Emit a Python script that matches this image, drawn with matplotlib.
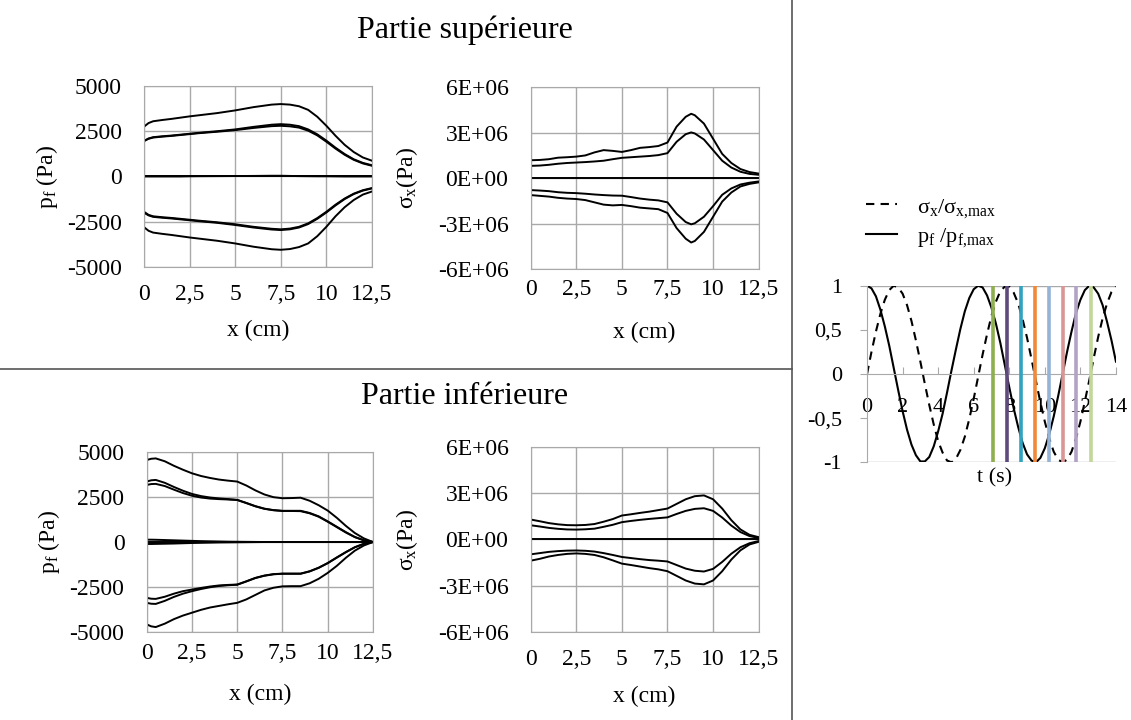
import matplotlib
matplotlib.use("Agg")
import matplotlib.pyplot as plt
from matplotlib.lines import Line2D

plt.rcParams['font.family'] = ['Liberation Serif', 'DejaVu Serif']
plt.rcParams['mathtext.fontset'] = 'custom'
plt.rcParams['mathtext.rm'] = 'Liberation Serif'
plt.rcParams['mathtext.default'] = 'regular'

# ---- data: partie superieure, pression p_f (Pa)
x_ps = [0, 0.25, 0.5, 1, 1.5, 2, 2.5, 3, 4, 5, 6, 7, 7.5, 8, 8.5, 9, 9.5, 10, 10.5, 11, 11.5, 12, 12.5]
ps_a_hi = [2750, 2950, 3050, 3120, 3180, 3250, 3320, 3380, 3500, 3650, 3830, 3970, 4000, 3970, 3880, 3680, 3300, 2800, 2250, 1750, 1350, 1050, 870]
ps_b1_hi = [1950, 2100, 2170, 2220, 2260, 2310, 2360, 2410, 2500, 2600, 2740, 2860, 2890, 2860, 2780, 2600, 2330, 1980, 1590, 1240, 950, 750, 620]
ps_b2_hi = [1970, 2080, 2150, 2200, 2240, 2290, 2340, 2390, 2470, 2560, 2680, 2780, 2800, 2770, 2700, 2530, 2270, 1920, 1540, 1200, 920, 720, 590]
ps_c1 = [0] * 23
ps_c2 = [0, 0, 0, 0, 0, 0, 10, 15, 20, 25, 30, 40, 40, 30, 20, 15, 10, 10, 5, 0, 0, 0, 0]
ps_b1_lo = [-1950, -2120, -2200, -2250, -2290, -2340, -2390, -2440, -2530, -2640, -2780, -2890, -2920, -2880, -2780, -2590, -2300, -1950, -1560, -1220, -950, -760, -640]
ps_b2_lo = [-2000, -2150, -2230, -2280, -2320, -2370, -2420, -2470, -2560, -2680, -2820, -2930, -2960, -2920, -2820, -2630, -2340, -1990, -1600, -1250, -970, -780, -660]
ps_a_lo = [-2800, -3000, -3100, -3170, -3230, -3300, -3370, -3430, -3550, -3700, -3880, -4020, -4050, -4010, -3900, -3700, -3300, -2780, -2200, -1700, -1300, -1000, -830]

# ---- partie superieure, contrainte sigma_x (MPa)
x_ss = [0, 0.5, 1, 1.5, 2, 2.5, 3, 3.5, 4, 4.5, 5, 5.5, 6, 6.5, 7, 7.5, 8, 8.5, 8.8, 9, 9.5, 10, 10.5, 11, 11.5, 12, 12.5]
ss_a_hi = [1.18, 1.2, 1.25, 1.35, 1.38, 1.42, 1.5, 1.7, 1.85, 1.8, 1.73, 1.85, 2.0, 2.05, 2.12, 2.35, 3.4, 4.05, 4.25, 4.15, 3.6, 2.6, 1.6, 1.0, 0.6, 0.4, 0.3]
ss_b_hi = [0.81, 0.83, 0.88, 0.95, 1.0, 1.03, 1.06, 1.1, 1.15, 1.25, 1.34, 1.38, 1.42, 1.46, 1.52, 1.65, 2.4, 2.9, 3.02, 2.95, 2.55, 1.85, 1.15, 0.7, 0.42, 0.28, 0.22]
ss_c = [0] * 27
ss_b_lo = [-0.79, -0.82, -0.86, -0.93, -0.97, -0.99, -1.03, -1.08, -1.12, -1.15, -1.16, -1.25, -1.35, -1.42, -1.47, -1.6, -2.35, -2.9, -3.05, -2.98, -2.55, -1.85, -1.1, -0.68, -0.42, -0.3, -0.22]
ss_a_lo = [-1.12, -1.17, -1.22, -1.3, -1.35, -1.38, -1.45, -1.6, -1.75, -1.8, -1.77, -1.85, -1.95, -2.0, -2.05, -2.3, -3.3, -4.0, -4.25, -4.15, -3.55, -2.55, -1.55, -0.95, -0.55, -0.38, -0.28]

# ---- partie inferieure, pression p_f (Pa)
x_pi = [0, 0.25, 0.5, 1, 1.5, 2, 2.5, 3, 3.5, 4, 4.5, 5, 5.5, 6, 6.5, 7, 7.5, 8, 8.5, 9, 9.5, 10, 10.5, 11, 11.5, 12, 12.5]
pi_a_hi = [4570, 4640, 4660, 4500, 4250, 4030, 3830, 3680, 3570, 3480, 3420, 3370, 3150, 2880, 2650, 2500, 2440, 2450, 2470, 2300, 2050, 1750, 1350, 900, 500, 200, 0]
pi_b1_hi = [3370, 3440, 3460, 3300, 3070, 2860, 2680, 2560, 2480, 2430, 2390, 2350, 2180, 2000, 1860, 1780, 1740, 1740, 1740, 1620, 1430, 1150, 850, 550, 280, 100, 0]
pi_b2_hi = [3180, 3230, 3240, 3120, 2920, 2730, 2580, 2480, 2420, 2390, 2370, 2340, 2170, 1990, 1850, 1770, 1730, 1730, 1720, 1600, 1410, 1130, 830, 530, 270, 90, 0]
pi_c0 = [0] * 27
pi_c1 = [130, 130, 125, 110, 95, 80, 65, 50, 40, 30, 20, 15, 10, 5, 0, 0, 0, 0, 0, 0, 0, 0, 0, 0, 0, 0, 0]
pi_c2 = [-110, -110, -105, -95, -85, -70, -55, -45, -35, -25, -20, -15, -10, -5, 0, 0, 0, 0, 0, 0, 0, 0, 0, 0, 0, 0, 0]
pi_b1_lo = [-3110, -3160, -3170, -3050, -2880, -2740, -2650, -2560, -2480, -2420, -2390, -2370, -2190, -2000, -1870, -1790, -1760, -1760, -1760, -1630, -1430, -1170, -860, -560, -290, -100, 0]
pi_b2_lo = [-3390, -3440, -3450, -3280, -3060, -2880, -2740, -2620, -2520, -2450, -2410, -2380, -2200, -2010, -1880, -1800, -1770, -1770, -1770, -1640, -1440, -1180, -870, -570, -290, -100, 0]
pi_a_lo = [-4590, -4700, -4740, -4550, -4300, -4100, -3940, -3780, -3650, -3560, -3470, -3390, -3200, -2950, -2700, -2550, -2470, -2460, -2460, -2300, -2050, -1720, -1330, -880, -480, -190, 0]

# ---- partie inferieure, contrainte sigma_x (MPa)
x_si = [0, 0.5, 1, 1.5, 2, 2.5, 3, 3.5, 4, 4.5, 5, 5.5, 6, 6.5, 7, 7.5, 8, 8.5, 9, 9.5, 10, 10.5, 11, 11.5, 12, 12.5]
si_a_hi = [1.29, 1.18, 1.06, 0.98, 0.93, 0.92, 0.94, 1.0, 1.15, 1.32, 1.55, 1.63, 1.72, 1.8, 1.9, 2.0, 2.3, 2.6, 2.8, 2.85, 2.6, 2.0, 1.25, 0.65, 0.3, 0.15]
si_b_hi = [0.92, 0.84, 0.75, 0.69, 0.65, 0.64, 0.66, 0.7, 0.82, 0.95, 1.12, 1.2, 1.27, 1.33, 1.38, 1.43, 1.65, 1.85, 1.98, 2.02, 1.85, 1.42, 0.9, 0.48, 0.22, 0.1]
si_c = [0] * 26
si_b_lo = [-0.96, -0.88, -0.8, -0.75, -0.72, -0.71, -0.73, -0.78, -0.88, -1.0, -1.13, -1.2, -1.27, -1.33, -1.37, -1.42, -1.65, -1.88, -2.02, -2.07, -1.9, -1.45, -0.92, -0.5, -0.24, -0.1]
si_a_lo = [-1.37, -1.25, -1.1, -1.0, -0.93, -0.9, -0.93, -1.0, -1.15, -1.35, -1.56, -1.65, -1.75, -1.85, -1.93, -2.05, -2.35, -2.65, -2.85, -2.9, -2.65, -2.05, -1.3, -0.7, -0.32, -0.15]

# ---- signaux normalises
t = [0, 0.25, 0.5, 0.75, 1, 1.25, 1.5, 1.75, 2, 2.25, 2.5, 2.75, 3, 3.25, 3.5, 3.75, 4, 4.25, 4.5, 4.75,
     5, 5.25, 5.5, 5.75, 6, 6.25, 6.5, 6.75, 7, 7.25, 7.5, 7.75, 8, 8.25, 8.5, 8.75, 9, 9.25, 9.5, 9.75,
     10, 10.25, 10.5, 10.75, 11, 11.25, 11.5, 11.75, 12, 12.25, 12.5, 12.75, 13, 13.25, 13.5, 13.75, 14]
p_norm = [1.00, 0.97, 0.88, 0.73, 0.54, 0.32, 0.07, -0.18, -0.42, -0.63, -0.80, -0.92, -0.99, -0.99, -0.94, -0.82, -0.65, -0.45, -0.21, 0.04,
          0.28, 0.51, 0.71, 0.86, 0.96, 1.00, 0.98, 0.89, 0.75, 0.57, 0.35, 0.10, -0.15, -0.39, -0.60, -0.78, -0.91, -0.98, -1.00, -0.95,
          -0.84, -0.68, -0.48, -0.25, 0.00, 0.25, 0.48, 0.69, 0.84, 0.95, 1.00, 0.98, 0.91, 0.78, 0.59, 0.38, 0.14]
s_norm = [0.00, 0.25, 0.48, 0.68, 0.84, 0.95, 1.00, 0.98, 0.91, 0.78, 0.60, 0.38, 0.14, -0.11, -0.35, -0.57, -0.76, -0.89, -0.98, -1.00,
          -0.96, -0.86, -0.71, -0.51, -0.28, -0.03, 0.22, 0.45, 0.66, 0.82, 0.94, 0.99, 0.99, 0.92, 0.80, 0.62, 0.41, 0.17, -0.08, -0.32,
          -0.54, -0.73, -0.88, -0.97, -1.00, -0.97, -0.88, -0.73, -0.54, -0.31, -0.07, 0.18, 0.42, 0.63, 0.80, 0.93, 0.99]
t_marks = [7.07, 7.85, 8.64, 9.42, 10.21, 11.0, 11.78, 12.57]
mark_colors = ['#8fae4f', '#604a7b', '#31a3bf', '#f08a3a', '#95b3d7', '#d99694', '#b3a2c7', '#c3d69b']

x_ticks = [0, 2.5, 5, 7.5, 10, 12.5]
x_ticklabels = ['0', '2,5', '5', '7,5', '10', '12,5']
pf_ticks = [-5000, -2500, 0, 2500, 5000]
pf_ticklabels = ['-5000', '-2500', '0', '2500', '5000']
sx_ticks = [-6, -3, 0, 3, 6]
sx_ticklabels = ['-6E+06', '-3E+06', '0E+00', '3E+06', '6E+06']

GRID = '#a9a9a9'
FS = 17


def style_panel(ax, yticks, ylabels, xpad, ylab, ylab_x):
    ax.set_xlim(0, 12.5)
    ax.set_ylim(yticks[0], yticks[-1])
    ax.set_xticks(x_ticks)
    ax.set_xticklabels(x_ticklabels)
    ax.set_yticks(yticks)
    ax.set_yticklabels(ylabels)
    ax.grid(True, color=GRID, lw=1.0)
    for s in ax.spines.values():
        s.set_color(GRID)
    ax.tick_params(length=0, labelsize=FS)
    ax.tick_params(axis='x', pad=xpad)
    ax.tick_params(axis='y', pad=16)
    ax.set_xlabel('x (cm)', fontsize=FS)
    ax.xaxis.set_label_coords(0.5, -0.29)
    ax.set_ylabel(ylab, fontsize=FS)
    ax.yaxis.set_label_coords(ylab_x, 0.5)


fig = plt.figure(figsize=(11.31, 7.2), dpi=100)

ax1 = fig.add_axes([0.1273, 0.6292, 0.2016, 0.2514])
for y in [ps_a_hi, ps_b1_hi, ps_b2_hi, ps_c1, ps_c2, ps_b1_lo, ps_b2_lo, ps_a_lo]:
    ax1.plot(x_ps, y, color='black', lw=1.4)
style_panel(ax1, pf_ticks, pf_ticklabels, 12, 'p$_f$ (Pa)', -0.37)

ax2 = fig.add_axes([0.4692, 0.6264, 0.2016, 0.2524])
for y in [ss_a_hi, ss_b_hi, ss_c, ss_b_lo, ss_a_lo]:
    ax2.plot(x_ss, y, color='black', lw=1.4)
style_panel(ax2, sx_ticks, sx_ticklabels, 7, 'σ$_x$(Pa)', -0.486)

ax3 = fig.add_axes([0.1297, 0.1226, 0.2001, 0.2492])
for y in [pi_a_hi, pi_b1_hi, pi_b2_hi, pi_c0, pi_c1, pi_c2, pi_b1_lo, pi_b2_lo, pi_a_lo]:
    ax3.plot(x_pi, y, color='black', lw=1.4)
style_panel(ax3, pf_ticks, pf_ticklabels, 8, 'p$_f$ (Pa)', -0.375)

ax4 = fig.add_axes([0.4692, 0.1218, 0.2016, 0.2578])
for y in [si_a_hi, si_b_hi, si_c, si_b_lo, si_a_lo]:
    ax4.plot(x_si, y, color='black', lw=1.4)
style_panel(ax4, sx_ticks, sx_ticklabels, 12, 'σ$_x$(Pa)', -0.486)

fig.text(465 / 1131, 1 - 30 / 720, 'Partie supérieure', fontsize=23, ha='center', va='center')
fig.text(465 / 1131, 1 - 397 / 720, 'Partie inférieure', fontsize=23, ha='center', va='center')

# separateurs
fig.add_artist(Line2D([0, 792 / 1131], [1 - 369 / 720] * 2, transform=fig.transFigure, color='#555555', lw=1.2))
fig.add_artist(Line2D([792 / 1131] * 2, [0, 1], transform=fig.transFigure, color='#555555', lw=1.2))

# panneau de droite
axr = fig.add_axes([0.7666, 0.3579, 0.2201, 0.2453])
axr.plot(t, p_norm, color='black', lw=1.5, label='p$_f$ /p$_{f{,}max}$')
axr.plot(t, s_norm, color='black', lw=1.5, ls=(0, (4, 3)), label='σ$_x$/σ$_{x{,}max}$')
for tv, c in zip(t_marks, mark_colors):
    axr.axvline(tv, color=c, lw=2.6, zorder=3)
axr.axhline(1, color=GRID, lw=1.0, zorder=0)
axr.axhline(-1, color=GRID, lw=1.0, zorder=0)
axr.set_xlim(0, 14)
axr.set_ylim(-1, 1)
axr.set_xticks([0, 2, 4, 6, 8, 10, 12, 14])
axr.set_xticklabels(['0', '2', '4', '6', '8', '10', '12', '14'])
axr.set_yticks([-1, -0.5, 0, 0.5, 1])
axr.set_yticklabels(['-1', '-0,5', '0', '0,5', '1'])
axr.spines['bottom'].set_position(('data', 0))
axr.spines['top'].set_visible(False)
axr.spines['right'].set_visible(False)
axr.spines['bottom'].set_color(GRID)
axr.spines['left'].set_color(GRID)
axr.tick_params(axis='x', direction='in', length=5, color=GRID, labelsize=16, pad=17)
axr.tick_params(axis='y', direction='out', length=5, color=GRID, labelsize=16, pad=13)
fig.text(995 / 1131, 1 - 478 / 720, 't (s)', fontsize=16, ha='center', va='center')

h = axr.get_legend_handles_labels()
axr.legend([h[0][1], h[0][0]], [h[1][1], h[1][0]], loc='lower left', bbox_to_anchor=(857 / 1131, 1 - 258 / 720),
           bbox_transform=fig.transFigure, frameon=False, fontsize=16, handlelength=1.4, handletextpad=0.9,
           labelspacing=0.3, borderaxespad=0)

fig.savefig('out.png', dpi=100, facecolor='white')
